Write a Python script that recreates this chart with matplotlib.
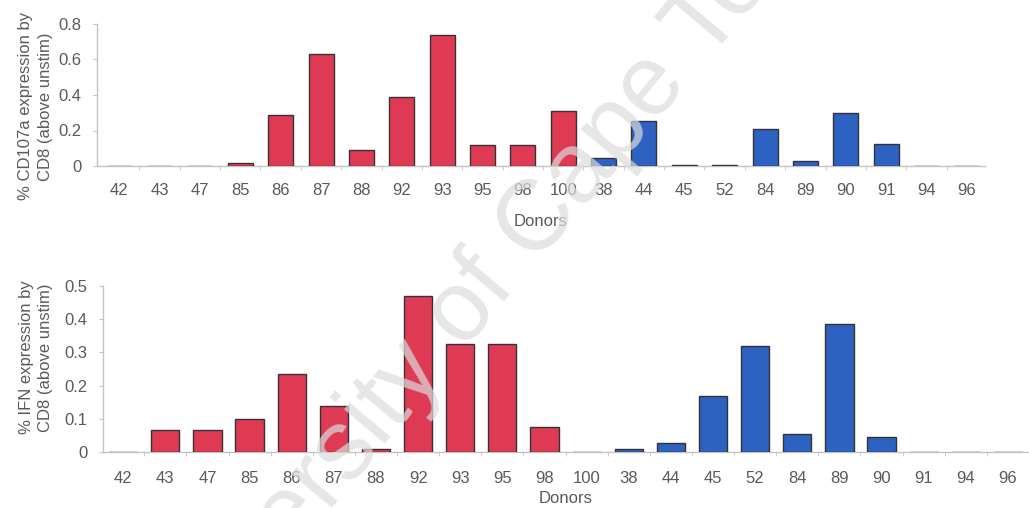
import matplotlib
matplotlib.use("Agg")
import matplotlib.pyplot as plt
from matplotlib.ticker import FuncFormatter, FixedLocator
import numpy as np

plt.rcParams['font.family'] = ['Liberation Sans', 'DejaVu Sans']

# Donor IDs (first group red, second group blue)
donors_red = ["42", "43", "47", "85", "86", "87", "88", "92", "93", "95", "98", "100"]
donors_blue = ["38", "44", "45", "52", "84", "89", "90", "91", "94", "96"]

# % CD107a expression by CD8 (above unstim)
cd107a_red = [0.0, 0.0, 0.0, 0.015, 0.29, 0.63, 0.09, 0.39, 0.74, 0.12, 0.12, 0.31]
cd107a_blue = [0.045, 0.255, 0.006, 0.006, 0.21, 0.028, 0.297, 0.124, 0.0, 0.0]

# % IFN expression by CD8 (above unstim)
ifn_red = [0.0, 0.065, 0.065, 0.10, 0.236, 0.14, 0.008, 0.469, 0.326, 0.326, 0.075, 0.0]
ifn_blue = [0.008, 0.027, 0.168, 0.318, 0.055, 0.385, 0.045, 0.0, 0.0, 0.0]

RED = "#df3a53"
BLUE = "#2e62c2"
EDGE = "#333333"
TXT = "#5a5a5a"
SPINE = "#c4c4c4"
FS = 12

fig = plt.figure(figsize=(10.29, 5.08), dpi=100)


def draw_panel(ax, red_vals, blue_vals, ymax, ystep, xlim, width, ylabel, label_xy,
               tick_pad, xlabel_pad):
    labels = donors_red + donors_blue
    values = list(red_vals) + list(blue_vals)
    colors = [RED] * len(red_vals) + [BLUE] * len(blue_vals)
    x = np.arange(len(labels))
    ax.bar(x, values, width=width, color=colors, edgecolor=EDGE, linewidth=1.0, zorder=3)
    ax.set_xlim(*xlim)
    ax.set_ylim(0, ymax)
    ax.set_xticks(x)
    ax.set_xticklabels(labels)
    ax.xaxis.set_minor_locator(FixedLocator(x[:-1] + 0.5))
    ax.tick_params(axis="x", which="major", length=0, pad=tick_pad, labelsize=FS, labelcolor=TXT)
    ax.tick_params(axis="x", which="minor", length=3, color=SPINE)
    ax.set_yticks(np.arange(0, ymax + 1e-9, ystep))
    ax.yaxis.set_major_formatter(FuncFormatter(lambda v, p: f"{v:g}"))
    ax.tick_params(axis="y", length=3, color=SPINE, pad=8, labelsize=FS, labelcolor=TXT)
    for s in ("top", "right"):
        ax.spines[s].set_visible(False)
    for s in ("left", "bottom"):
        ax.spines[s].set_color(SPINE)
        ax.spines[s].set_linewidth(1.0)
    ax.set_ylabel(ylabel, fontsize=FS, color=TXT, linespacing=1.35)
    ax.yaxis.set_label_coords(*label_xy)
    ax.set_xlabel("Donors", fontsize=FS, color=TXT, labelpad=xlabel_pad)


ax1 = fig.add_axes([97 / 1029, 1 - 166 / 508, 888 / 1029, 142 / 508])
draw_panel(ax1, cd107a_red, cd107a_blue, 0.8, 0.2, (-0.55, 21.45), 0.62,
           "% CD107a expression by\nCD8 (above unstim)", (-0.05, 0.42),
           tick_pad=12, xlabel_pad=12)

ax2 = fig.add_axes([103 / 1029, 1 - 452 / 508, 926 / 1029, 166 / 508])
draw_panel(ax2, ifn_red, ifn_blue, 0.5, 0.1, (-0.48, 21.5), 0.67,
           "% IFN expression by\nCD8 (above unstim)", (-0.054, 0.57),
           tick_pad=14, xlabel_pad=3)

# Diagonal watermark across the page
fig.text(490 / 1029, 1 - 280 / 508, "University of Cape Town", fontsize=72,
         color="#dcdcdc", alpha=0.7, rotation=50, ha="center", va="center",
         rotation_mode="anchor", zorder=10)

fig.savefig("out.png", dpi=100, facecolor="white")
